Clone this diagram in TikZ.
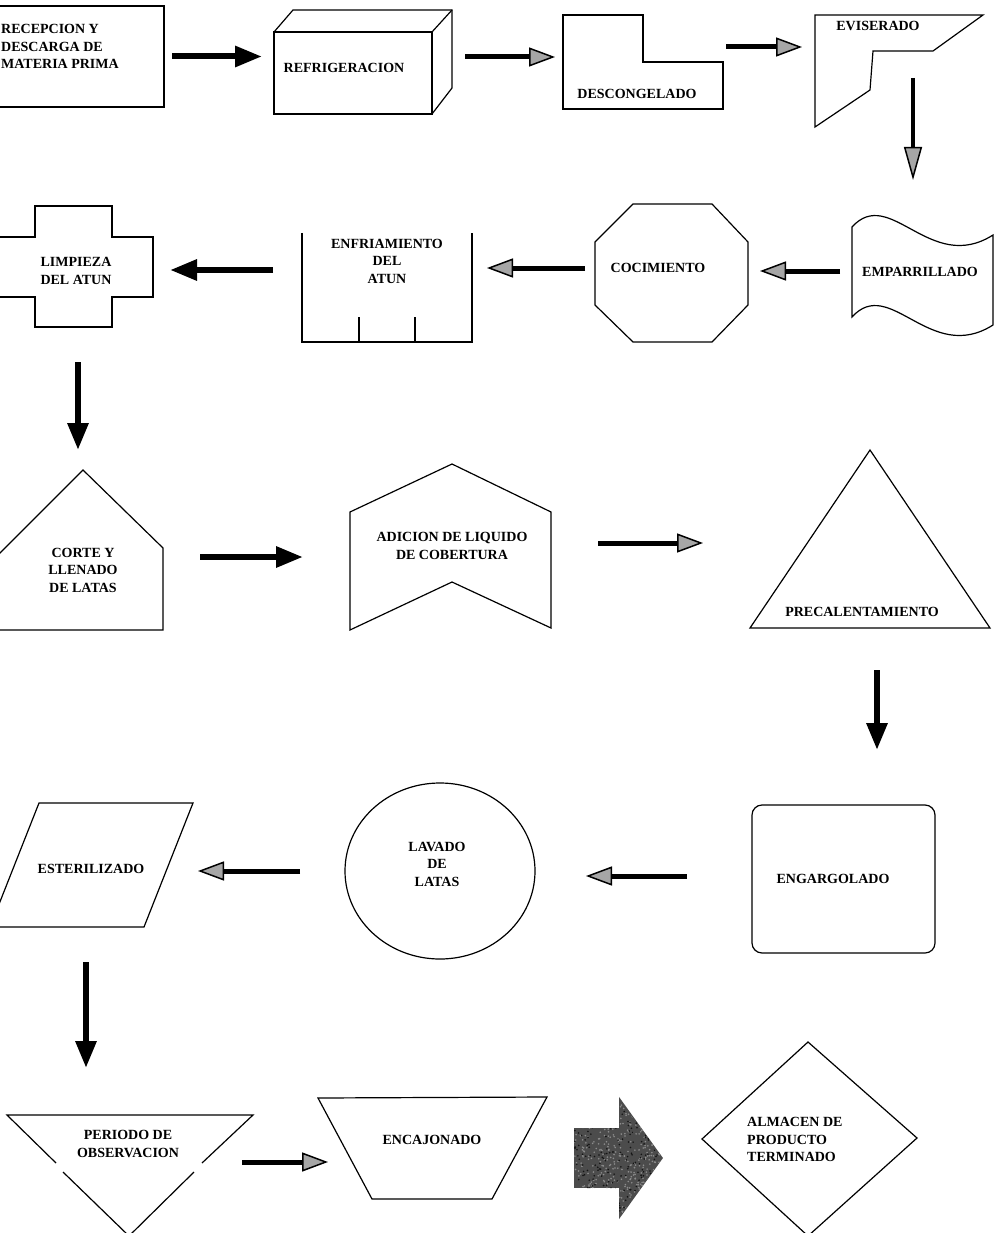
\documentclass[tikz,border=0pt]{standalone}
\usepackage{fontspec}
\setmainfont{Liberation Serif}
\usetikzlibrary{arrows.meta,shapes.geometric}

\begin{document}
\begin{tikzpicture}[x=1pt,y=-1pt,
  bb/.style 2 args={inner sep=0pt, outer sep=0pt, minimum width=#1, minimum height=#2},
  shp/.style={draw, line width=1.2pt, line join=miter},
  lbl/.style={font=\fontsize{14}{17.5}\selectfont\bfseries, align=center, inner sep=0pt},
  solidarr/.style={line width=6pt, -{Triangle[length=27pt, width=20pt]}},
  hatcharr/.style={line width=5pt, -{Triangle[length=26pt, width=19pt, line width=1.5pt, fill=black!35]}},
  thinhatch/.style={line width=4.5pt, -{Triangle[length=33pt, width=18pt, line width=1.5pt, fill=black!35]}},
  blockarr/.style={line width=60pt, draw=black!70, -{Triangle[length=44pt, width=120pt]}}
]
\useasboundingbox (0,0) rectangle (1003,1233);
\clip (0,0) rectangle (1003,1233);

% ---------- named frames of the process steps ----------
\node[bb={224pt}{101pt}] (rec)   at (52,56.5)   {};
\node[bb={178pt}{104pt}] (ref)   at (363,62)    {};
\node[bb={160pt}{94pt}]  (desc)  at (643,62)    {};
\node[bb={170pt}{113pt}] (evis)  at (900,71.5)  {};
\node[bb={141pt}{132pt}] (emp)   at (922.5,271) {};
\node[bb={153pt}{138pt}] (coc)   at (671.5,273) {};
\node[bb={170pt}{109pt}] (enf)   at (387,287.5) {};
\node[bb={163pt}{121pt}] (limp)  at (71.5,266.5){};
\node[bb={173pt}{160pt}] (corte) at (76.5,550)  {};
\node[bb={201pt}{166pt}] (adic)  at (450.5,547) {};
\node[bb={240pt}{178pt}] (prec)  at (870,539)   {};
\node[bb={183pt}{148pt}, shp, rounded corners=10pt] (eng) at (843.5,879) {};
\node[bb={190pt}{176pt}, shp, ellipse] (lav) at (440,871) {};
\node[bb={203pt}{124pt}] (est)   at (91.5,865)  {};
\node[bb={246pt}{118pt}] (per)   at (130,1174)  {};
\node[bb={229pt}{102pt}] (encaj) at (432.5,1148){};
\node[bb={215pt}{194pt}] (alm)   at (809.5,1139){};

% ---------- outlines ----------
% recepcion: plain box running off the left margin
\draw[shp] (-20,6) -- (164,6) -- (164,107) -- (-20,107);
% refrigeracion: cuboid
\draw[shp] (274,32) rectangle (432,114);
\draw[shp] (274,32) -- (293,10) -- (452,10) -- (452,88) -- (432,114);
\draw[shp] (432,32) -- (452,10);
% descongelado: L-shaped box
\draw[shp] (563,15) -- (643,15) -- (643,62) -- (723,62) -- (723,109) -- (563,109) -- cycle;
% eviserado: stepped slanted outline
\draw[shp] (815,15) -- (983,15) -- (933,51) -- (873,51) -- (870,90) -- (815,127) -- cycle;
% emparrillado: punched tape
\draw[shp] (852,227) .. controls (890,185) and (930,275) .. (993,235)
  -- (993,325) .. controls (930,365) and (890,275) .. (852,317) -- cycle;
% cocimiento: octagon
\draw[shp] (633,204) -- (712,204) -- (748,242) -- (748,305) -- (712,342)
  -- (633,342) -- (595,305) -- (595,242) -- cycle;
% enfriamiento: open-top tray with two partitions
\draw[shp] (302,233) -- (302,342) -- (472,342) -- (472,233);
\draw[shp] (359,317) -- (359,342);
\draw[shp] (415,317) -- (415,342);
% limpieza: cross
\draw[shp] (35,206) -- (112,206) -- (112,237) -- (153,237) -- (153,297) -- (112,297)
  -- (112,327) -- (35,327) -- (35,297) -- (-10,297) -- (-10,237) -- (35,237) -- cycle;
% corte y llenado: house
\draw[shp] (-12,565) -- (83,470) -- (163,548) -- (163,630) -- (-12,630);
% adicion de liquido: notched banner
\draw[shp] (350,512) -- (452,464) -- (551,512) -- (551,628) -- (452,582) -- (350,630) -- cycle;
% precalentamiento: triangle
\draw[shp] (870,450) -- (990,628) -- (750,628) -- cycle;
% esterilizado: parallelogram
\draw[shp] (39,803) -- (193,803) -- (144,927) -- (-10,927) -- cycle;
% periodo de observacion: inverted triangle
\draw[shp] (56,1163) -- (7,1115) -- (253,1115) -- (202,1163);
\draw[shp] (63,1172) -- (129,1236) -- (194,1172);
% encajonado: trapezoid
\draw[shp] (318,1098) -- (547,1097) -- (492,1199) -- (372,1199) -- cycle;
% almacen: diamond
\draw[shp] (702,1139) -- (808,1042) -- (917,1138) -- (808,1236) -- cycle;

% ---------- labels ----------
\node[lbl, align=left, anchor=west] at (1,46.5) {RECEPCION Y\\DESCARGA DE\\MATERIA PRIMA};
\node[lbl] at (344,68) {REFRIGERACION};
\node[lbl] at (637,94) {DESCONGELADO};
\node[lbl] at (878,26) {EVISERADO};
\node[lbl] at (920,272) {EMPARRILLADO};
\node[lbl] at (658,268) {COCIMIENTO};
\node[lbl] at (387,261) {ENFRIAMIENTO\\DEL\\ATUN};
\node[lbl] at (76,271) {LIMPIEZA\\DEL ATUN};
\node[lbl] at (83,570) {CORTE Y\\LLENADO\\DE LATAS};
\node[lbl] at (452,546) {ADICION DE LIQUIDO\\DE COBERTURA};
\node[lbl] at (862,612) {PRECALENTAMIENTO};
\node[lbl] at (833,879) {ENGARGOLADO};
\node[lbl] at (437,864) {LAVADO\\DE\\LATAS};
\node[lbl] at (91,869) {ESTERILIZADO};
\node[lbl] at (128,1144) {PERIODO DE\\OBSERVACION};
\node[lbl] at (432,1140) {ENCAJONADO};
\node[lbl, align=left, anchor=west] at (747,1139.5) {ALMACEN DE\\PRODUCTO\\TERMINADO};

% ---------- connectors ----------
\coordinate (a2)  at ([yshift=5pt]ref.east);
\coordinate (a3)  at ([yshift=15pt]desc.east);
\coordinate (a4)  at ([xshift=13pt,yshift=50pt]evis.south);
\coordinate (a6)  at ([yshift=5pt]coc.west);
\coordinate (a7)  at ([yshift=17.5pt]enf.west);
\coordinate (a8)  at ([xshift=6.5pt]limp.south);
\coordinate (a9)  at ([yshift=-7pt]corte.east);
\coordinate (a10) at ([yshift=4pt]adic.east);
\coordinate (a11) at ([xshift=7pt]prec.south);
\coordinate (a12) at ([yshift=3pt]eng.west);
\coordinate (a14) at ([xshift=-5.5pt]est.south);
\coordinate (a15) at ([yshift=12pt]per.east);
\coordinate (a16) at ([yshift=-10pt]encaj.east);

\draw[solidarr, shorten <=8pt, shorten >=12pt] (rec.east) -- (rec.east -| ref.west);
\draw[hatcharr, shorten <=13pt, shorten >=8pt] (a2) -- (a2 -| desc.west);
\draw[hatcharr, shorten <=3pt, shorten >=13pt] (a3) -- (a3 -| evis.west);
\draw[thinhatch, shorten >=25pt] (a4) -- (a4 |- emp.north);
\draw[hatcharr, shorten <=12pt, shorten >=12pt] (emp.west) -- (emp.west -| coc.east);
\draw[hatcharr, shorten <=10pt, shorten >=15pt] (a6) -- (a6 -| enf.east);
\draw[solidarr, shorten <=29pt, shorten >=17pt] (a7) -- (a7 -| limp.east);
\draw[solidarr, shorten <=35pt, shorten >=20pt] (a8) -- (a8 |- corte.north);
\draw[solidarr, shorten <=37pt, shorten >=47pt] (a9) -- (a9 -| adic.west);
\draw[hatcharr, shorten <=47pt, shorten >=47pt] (a10) -- (a10 -| prec.west);
\draw[solidarr, shorten <=42pt, shorten >=55pt] (a11) -- (a11 |- eng.north);
\draw[hatcharr, shorten <=65pt, shorten >=51pt] (a12) -- (a12 -| lav.east);
\draw[hatcharr, shorten <=45pt, shorten >=5pt] (lav.west) -- (lav.west -| est.east);
\draw[solidarr, shorten <=35pt, shorten >=47pt] (a14) -- (a14 |- per.north);
\draw[hatcharr, shorten <=-11pt, shorten >=-10pt] (a15) -- (a15 -| encaj.west);
\draw[blockarr, shorten <=27pt, shorten >=39pt] (a16) -- (a16 -| alm.west);

% mottled grain on the block arrow
\begin{scope}
  \clip ([xshift=27pt,yshift=30pt]a16) -- ([xshift=72pt,yshift=30pt]a16)
    -- ([xshift=72pt,yshift=60pt]a16) -- ([xshift=116pt]a16)
    -- ([xshift=72pt,yshift=-60pt]a16) -- ([xshift=72pt,yshift=-30pt]a16)
    -- ([xshift=27pt,yshift=-30pt]a16) -- cycle;
  \pgfmathsetseed{4711}
  \foreach \i in {1,...,500} {
    \pgfmathsetmacro{\gx}{574+90*rnd}
    \pgfmathsetmacro{\gy}{1096+124*rnd}
    \fill[black!45] (\gx,\gy) circle (0.9);
  }
  \foreach \i in {1,...,300} {
    \pgfmathsetmacro{\gx}{574+90*rnd}
    \pgfmathsetmacro{\gy}{1096+124*rnd}
    \fill[black!92] (\gx,\gy) circle (0.9);
  }
\end{scope}
\end{tikzpicture}
\end{document}
